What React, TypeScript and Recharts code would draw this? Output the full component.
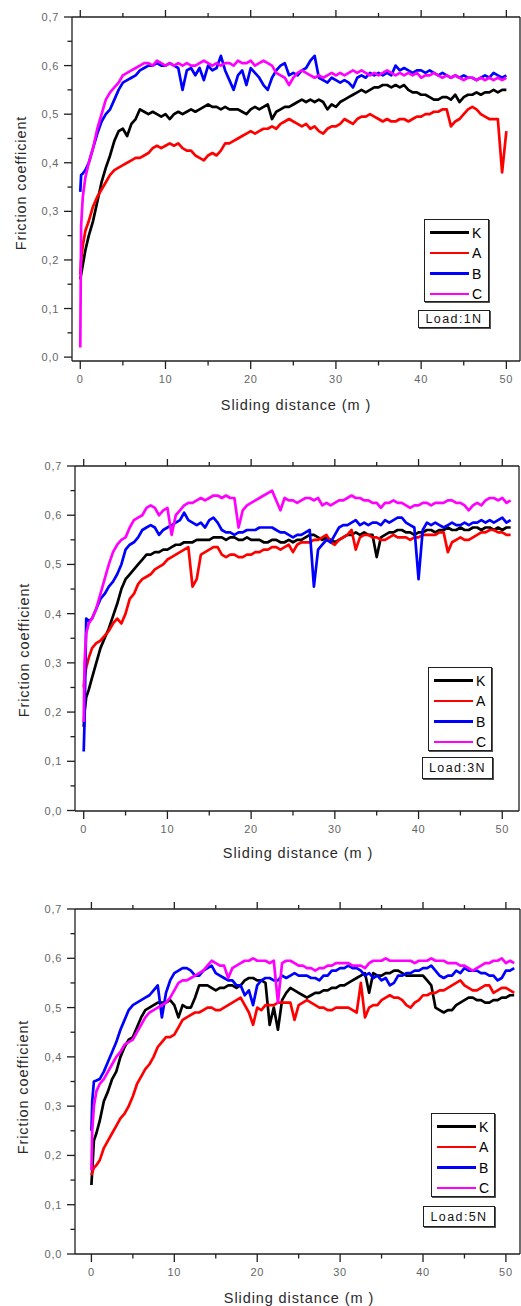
import React from 'react';
import { LineChart, Line, XAxis, YAxis, Legend } from 'recharts';

const FONT = '"Liberation Sans", Arial, sans-serif';
const AXIS = '#1f1f1f';

// sliding distance (m) sample positions
const DIST = [
  0, 0.1, 0.3, 0.6,
  1, 1.5, 2, 2.5, 3, 3.5, 4, 4.5, 5, 5.5,
  6, 6.5, 7, 7.5, 8, 8.5, 9, 9.5, 10, 10.5,
  11, 11.5, 12, 12.5, 13, 13.5, 14, 14.5, 15, 15.5,
  16, 16.5, 17, 17.5, 18, 18.5, 19, 19.5, 20, 20.5,
  21, 21.5, 22, 22.5, 23, 23.5, 24, 24.5, 25, 25.5,
  26, 26.5, 27, 27.5, 28, 28.5, 29, 29.5, 30, 30.5,
  31, 31.5, 32, 32.5, 33, 33.5, 34, 34.5, 35, 35.5,
  36, 36.5, 37, 37.5, 38, 38.5, 39, 39.5, 40, 40.5,
  41, 41.5, 42, 42.5, 43, 43.5, 44, 44.5, 45, 45.5,
  46, 46.5, 47, 47.5, 48, 48.5, 49, 49.5, 50, 50.5, 51,
];

const X_TICKS = [0, 5, 10, 15, 20, 25, 30, 35, 40, 45, 50];
const Y_TICKS = [0, 0.05, 0.1, 0.15, 0.2, 0.25, 0.3, 0.35, 0.4, 0.45, 0.5, 0.55, 0.6, 0.65, 0.7];

const NAMES = ['K', 'A', 'B', 'C'];
const COLORS = ['#000000', '#ff0000', '#0000ff', '#ff00ff'];

// ---- Load 1N ----
const K_1N = [
  0.16, 0.17, 0.19, 0.22,
  0.25, 0.28, 0.32, 0.36, 0.39, 0.415, 0.445, 0.465, 0.47, 0.455,
  0.48, 0.49, 0.51, 0.505, 0.50, 0.505, 0.50, 0.495, 0.50, 0.49,
  0.50, 0.505, 0.50, 0.505, 0.51, 0.505, 0.51, 0.515, 0.52, 0.515,
  0.515, 0.51, 0.515, 0.51, 0.51, 0.51, 0.505, 0.50, 0.51, 0.515,
  0.51, 0.515, 0.52, 0.49, 0.505, 0.51, 0.515, 0.515, 0.52, 0.525,
  0.53, 0.525, 0.53, 0.525, 0.53, 0.525, 0.51, 0.52, 0.515, 0.525,
  0.53, 0.535, 0.54, 0.545, 0.55, 0.545, 0.55, 0.555, 0.555, 0.56,
  0.56, 0.555, 0.56, 0.555, 0.56, 0.55, 0.545, 0.545, 0.54, 0.54,
  0.535, 0.53, 0.53, 0.535, 0.535, 0.53, 0.54, 0.525, 0.535, 0.54,
  0.54, 0.545, 0.54, 0.545, 0.545, 0.55, 0.545, 0.55, 0.55,
];
const A_1N = [
  0.17, 0.2, 0.23, 0.26,
  0.28, 0.31, 0.33, 0.345, 0.36, 0.375, 0.385, 0.39, 0.395, 0.40,
  0.405, 0.41, 0.41, 0.415, 0.42, 0.43, 0.435, 0.43, 0.435, 0.44,
  0.435, 0.44, 0.43, 0.425, 0.425, 0.415, 0.41, 0.405, 0.415, 0.42,
  0.415, 0.425, 0.44, 0.44, 0.445, 0.45, 0.455, 0.46, 0.465, 0.46,
  0.465, 0.47, 0.47, 0.475, 0.47, 0.48, 0.485, 0.49, 0.485, 0.48,
  0.475, 0.48, 0.47, 0.475, 0.465, 0.46, 0.47, 0.475, 0.475, 0.48,
  0.49, 0.485, 0.48, 0.49, 0.495, 0.495, 0.50, 0.495, 0.49, 0.485,
  0.49, 0.485, 0.485, 0.49, 0.49, 0.485, 0.49, 0.495, 0.495, 0.50,
  0.50, 0.505, 0.505, 0.51, 0.51, 0.475, 0.485, 0.49, 0.50, 0.51,
  0.515, 0.51, 0.50, 0.495, 0.49, 0.49, 0.49, 0.38, 0.465,
];
const B_1N = [
  0.34, 0.375, 0.378, 0.385,
  0.40, 0.43, 0.46, 0.485, 0.50, 0.51, 0.53, 0.55, 0.565, 0.57,
  0.575, 0.58, 0.59, 0.595, 0.60, 0.60, 0.605, 0.60, 0.60, 0.605,
  0.60, 0.595, 0.55, 0.59, 0.595, 0.58, 0.595, 0.57, 0.60, 0.59,
  0.595, 0.62, 0.59, 0.57, 0.55, 0.58, 0.59, 0.56, 0.595, 0.585,
  0.575, 0.56, 0.55, 0.575, 0.59, 0.60, 0.605, 0.58, 0.585, 0.58,
  0.59, 0.595, 0.61, 0.62, 0.575, 0.57, 0.565, 0.575, 0.57, 0.565,
  0.57, 0.565, 0.555, 0.575, 0.58, 0.575, 0.585, 0.58, 0.585, 0.58,
  0.585, 0.58, 0.60, 0.59, 0.595, 0.59, 0.585, 0.59, 0.59, 0.585,
  0.59, 0.585, 0.58, 0.585, 0.58, 0.575, 0.58, 0.575, 0.58, 0.575,
  0.575, 0.57, 0.575, 0.58, 0.575, 0.585, 0.58, 0.575, 0.58,
];
const C_1N = [
  0.02, 0.27, 0.33, 0.37,
  0.40, 0.43, 0.47, 0.50, 0.53, 0.545, 0.555, 0.565, 0.58, 0.585,
  0.59, 0.595, 0.60, 0.605, 0.605, 0.60, 0.61, 0.605, 0.60, 0.605,
  0.60, 0.605, 0.60, 0.605, 0.60, 0.60, 0.605, 0.61, 0.605, 0.60,
  0.605, 0.60, 0.605, 0.605, 0.60, 0.61, 0.605, 0.605, 0.61, 0.60,
  0.605, 0.61, 0.605, 0.60, 0.585, 0.58, 0.575, 0.56, 0.575, 0.585,
  0.59, 0.585, 0.58, 0.575, 0.58, 0.575, 0.58, 0.585, 0.58, 0.585,
  0.58, 0.585, 0.59, 0.585, 0.59, 0.585, 0.58, 0.585, 0.58, 0.585,
  0.59, 0.585, 0.58, 0.585, 0.58, 0.585, 0.58, 0.585, 0.575, 0.58,
  0.58, 0.585, 0.58, 0.575, 0.58, 0.575, 0.58, 0.575, 0.57, 0.575,
  0.575, 0.57, 0.575, 0.57, 0.575, 0.57, 0.575, 0.57, 0.575,
];

// ---- Load 3N ----
const K_3N = [
  0.17, 0.20, 0.23, 0.245,
  0.27, 0.30, 0.33, 0.35, 0.37, 0.395, 0.42, 0.45, 0.47, 0.48,
  0.49, 0.50, 0.51, 0.52, 0.52, 0.525, 0.525, 0.53, 0.53, 0.535,
  0.54, 0.54, 0.545, 0.545, 0.545, 0.55, 0.55, 0.55, 0.55, 0.555,
  0.555, 0.555, 0.55, 0.555, 0.555, 0.55, 0.55, 0.555, 0.55, 0.55,
  0.55, 0.545, 0.545, 0.55, 0.55, 0.545, 0.545, 0.55, 0.545, 0.55,
  0.55, 0.555, 0.56, 0.56, 0.555, 0.55, 0.555, 0.55, 0.545, 0.55,
  0.555, 0.56, 0.56, 0.565, 0.56, 0.565, 0.56, 0.56, 0.515, 0.555,
  0.56, 0.565, 0.565, 0.57, 0.57, 0.565, 0.565, 0.56, 0.565, 0.565,
  0.57, 0.57, 0.565, 0.57, 0.57, 0.575, 0.57, 0.57, 0.575, 0.57,
  0.57, 0.575, 0.575, 0.57, 0.575, 0.575, 0.57, 0.575, 0.57, 0.575, 0.575,
];
const A_3N = [
  0.25, 0.27, 0.29, 0.31,
  0.33, 0.34, 0.345, 0.355, 0.365, 0.38, 0.39, 0.38, 0.40, 0.43,
  0.44, 0.46, 0.47, 0.475, 0.48, 0.49, 0.495, 0.50, 0.51, 0.515,
  0.52, 0.525, 0.53, 0.535, 0.455, 0.47, 0.52, 0.525, 0.53, 0.535,
  0.535, 0.52, 0.515, 0.52, 0.52, 0.515, 0.515, 0.52, 0.52, 0.525,
  0.525, 0.53, 0.53, 0.535, 0.535, 0.53, 0.535, 0.54, 0.525, 0.54,
  0.545, 0.545, 0.545, 0.55, 0.55, 0.555, 0.56, 0.545, 0.54, 0.55,
  0.555, 0.56, 0.57, 0.53, 0.555, 0.56, 0.56, 0.555, 0.555, 0.55,
  0.55, 0.555, 0.56, 0.555, 0.555, 0.555, 0.55, 0.555, 0.555, 0.56,
  0.56, 0.56, 0.56, 0.565, 0.565, 0.525, 0.545, 0.55, 0.555, 0.55,
  0.55, 0.555, 0.56, 0.565, 0.565, 0.57, 0.57, 0.565, 0.565, 0.56, 0.56,
];
const B_3N = [
  0.12, 0.18, 0.39, 0.385,
  0.39, 0.41, 0.43, 0.44, 0.455, 0.465, 0.48, 0.50, 0.53, 0.54,
  0.545, 0.555, 0.57, 0.575, 0.58, 0.575, 0.56, 0.57, 0.575, 0.58,
  0.585, 0.59, 0.605, 0.59, 0.585, 0.58, 0.585, 0.575, 0.59, 0.595,
  0.585, 0.57, 0.565, 0.565, 0.56, 0.565, 0.565, 0.57, 0.57, 0.57,
  0.575, 0.575, 0.575, 0.575, 0.57, 0.565, 0.565, 0.56, 0.555, 0.56,
  0.56, 0.565, 0.57, 0.455, 0.53, 0.54, 0.55, 0.545, 0.56, 0.575,
  0.58, 0.58, 0.585, 0.59, 0.58, 0.585, 0.58, 0.585, 0.585, 0.58,
  0.59, 0.585, 0.59, 0.595, 0.595, 0.585, 0.58, 0.575, 0.47, 0.57,
  0.585, 0.58, 0.585, 0.58, 0.575, 0.58, 0.585, 0.58, 0.58, 0.585,
  0.58, 0.585, 0.585, 0.59, 0.585, 0.59, 0.585, 0.59, 0.595, 0.585, 0.59,
];
const C_3N = [
  0.18, 0.30, 0.36, 0.38,
  0.39, 0.41, 0.44, 0.47, 0.50, 0.525, 0.54, 0.55, 0.555, 0.575,
  0.59, 0.595, 0.60, 0.615, 0.62, 0.615, 0.60, 0.61, 0.615, 0.56,
  0.60, 0.61, 0.62, 0.625, 0.625, 0.63, 0.635, 0.63, 0.635, 0.64,
  0.64, 0.635, 0.64, 0.635, 0.635, 0.575, 0.61, 0.62, 0.625, 0.63,
  0.635, 0.64, 0.645, 0.65, 0.63, 0.61, 0.635, 0.63, 0.63, 0.625,
  0.63, 0.635, 0.635, 0.63, 0.635, 0.62, 0.625, 0.62, 0.625, 0.63,
  0.63, 0.635, 0.64, 0.635, 0.635, 0.63, 0.63, 0.625, 0.625, 0.615,
  0.625, 0.625, 0.63, 0.625, 0.625, 0.62, 0.615, 0.62, 0.62, 0.625,
  0.625, 0.62, 0.625, 0.625, 0.625, 0.63, 0.63, 0.625, 0.625, 0.62,
  0.61, 0.62, 0.625, 0.62, 0.63, 0.635, 0.635, 0.63, 0.635, 0.625, 0.63,
];

// ---- Load 5N ----
const K_5N = [
  0.14, 0.17, 0.23, 0.245,
  0.27, 0.31, 0.33, 0.355, 0.37, 0.40, 0.42, 0.435, 0.44, 0.46,
  0.48, 0.495, 0.50, 0.505, 0.51, 0.51, 0.51, 0.515, 0.505, 0.48,
  0.505, 0.50, 0.50, 0.52, 0.545, 0.545, 0.545, 0.54, 0.535, 0.54,
  0.54, 0.545, 0.545, 0.54, 0.545, 0.555, 0.56, 0.56, 0.555, 0.555,
  0.55, 0.465, 0.50, 0.455, 0.515, 0.53, 0.54, 0.535, 0.53, 0.525,
  0.52, 0.525, 0.53, 0.53, 0.535, 0.535, 0.54, 0.54, 0.545, 0.545,
  0.55, 0.555, 0.56, 0.565, 0.57, 0.53, 0.57, 0.565, 0.565, 0.57,
  0.57, 0.575, 0.575, 0.57, 0.565, 0.565, 0.565, 0.565, 0.565, 0.555,
  0.545, 0.50, 0.495, 0.49, 0.495, 0.495, 0.505, 0.51, 0.515, 0.52,
  0.52, 0.515, 0.515, 0.51, 0.51, 0.515, 0.515, 0.52, 0.52, 0.525, 0.525,
];
const A_5N = [
  0.16, 0.165, 0.175, 0.18,
  0.19, 0.215, 0.23, 0.245, 0.26, 0.275, 0.285, 0.30, 0.32, 0.345,
  0.36, 0.375, 0.385, 0.40, 0.42, 0.43, 0.44, 0.44, 0.445, 0.46,
  0.475, 0.48, 0.485, 0.49, 0.49, 0.495, 0.50, 0.50, 0.495, 0.495,
  0.50, 0.505, 0.51, 0.515, 0.52, 0.505, 0.49, 0.465, 0.50, 0.495,
  0.505, 0.505, 0.505, 0.51, 0.51, 0.51, 0.51, 0.475, 0.505, 0.51,
  0.515, 0.51, 0.505, 0.50, 0.50, 0.495, 0.495, 0.50, 0.50, 0.50,
  0.50, 0.495, 0.49, 0.55, 0.48, 0.50, 0.505, 0.505, 0.515, 0.52,
  0.525, 0.52, 0.52, 0.515, 0.505, 0.50, 0.51, 0.515, 0.525, 0.525,
  0.53, 0.53, 0.535, 0.535, 0.54, 0.545, 0.55, 0.555, 0.545, 0.54,
  0.535, 0.535, 0.54, 0.545, 0.545, 0.53, 0.535, 0.54, 0.54, 0.535, 0.53,
];
const B_5N = [
  0.25, 0.31, 0.35, 0.352,
  0.355, 0.37, 0.39, 0.41, 0.43, 0.455, 0.475, 0.495, 0.505, 0.51,
  0.515, 0.52, 0.525, 0.535, 0.545, 0.48, 0.53, 0.555, 0.57, 0.575,
  0.58, 0.58, 0.575, 0.565, 0.565, 0.575, 0.58, 0.585, 0.57, 0.565,
  0.56, 0.555, 0.555, 0.545, 0.545, 0.525, 0.535, 0.505, 0.545, 0.555,
  0.56, 0.56, 0.555, 0.555, 0.565, 0.56, 0.565, 0.57, 0.565, 0.565,
  0.565, 0.56, 0.56, 0.555, 0.565, 0.565, 0.575, 0.575, 0.58, 0.58,
  0.585, 0.58, 0.58, 0.575, 0.565, 0.57, 0.56, 0.565, 0.555, 0.56,
  0.545, 0.55, 0.565, 0.565, 0.57, 0.57, 0.575, 0.575, 0.58, 0.58,
  0.585, 0.575, 0.565, 0.56, 0.565, 0.565, 0.575, 0.57, 0.58, 0.575,
  0.575, 0.575, 0.57, 0.57, 0.565, 0.565, 0.555, 0.56, 0.575, 0.575, 0.58,
];
const C_5N = [
  0.17, 0.25, 0.30, 0.33,
  0.345, 0.355, 0.37, 0.385, 0.40, 0.41, 0.425, 0.43, 0.435, 0.45,
  0.465, 0.48, 0.49, 0.495, 0.50, 0.505, 0.51, 0.52, 0.535, 0.55,
  0.555, 0.555, 0.56, 0.565, 0.57, 0.575, 0.585, 0.595, 0.59, 0.585,
  0.585, 0.56, 0.58, 0.585, 0.59, 0.595, 0.595, 0.60, 0.595, 0.595,
  0.595, 0.59, 0.595, 0.51, 0.59, 0.595, 0.595, 0.59, 0.585, 0.585,
  0.58, 0.58, 0.575, 0.58, 0.58, 0.585, 0.585, 0.59, 0.59, 0.59,
  0.59, 0.585, 0.585, 0.585, 0.58, 0.59, 0.595, 0.595, 0.595, 0.60,
  0.595, 0.595, 0.595, 0.595, 0.595, 0.595, 0.59, 0.595, 0.595, 0.595,
  0.60, 0.595, 0.595, 0.595, 0.59, 0.59, 0.59, 0.585, 0.585, 0.58,
  0.575, 0.58, 0.585, 0.59, 0.59, 0.595, 0.595, 0.60, 0.59, 0.595, 0.59,
];

const toPoints = (vals: number[]) => vals.map((v, i) => ({ x: DIST[i], v }));

const fmt = (v: number) => v.toFixed(1).replace('.', ',');
const isMajorY = (v: number) => Math.round(v * 100) % 10 === 0;

function BottomTick({ x, y, payload }: any) {
  const major = payload.value % 10 === 0;
  return (
    <g>
      <line x1={x} x2={x} y1={y} y2={y + (major ? 8 : 4.5)} stroke={AXIS} strokeWidth={1.3} />
      {major && (
        <text x={x} y={y + 22} textAnchor="middle" fontSize={11} fill="#666" fontFamily={FONT} letterSpacing={0.7}>
          {payload.value}
        </text>
      )}
    </g>
  );
}

function TopTick({ x, y, payload }: any) {
  const major = payload.value % 10 === 0;
  return <line x1={x} x2={x} y1={y} y2={y - (major ? 7 : 4)} stroke={AXIS} strokeWidth={1.3} />;
}

function LeftTick({ x, y, payload }: any) {
  const major = isMajorY(payload.value);
  return (
    <g>
      <line x1={x} x2={x - (major ? 8 : 4.5)} y1={y} y2={y} stroke={AXIS} strokeWidth={1.3} />
      {major && (
        <text x={x - 13} y={y + 4} textAnchor="end" fontSize={11} fill="#666" fontFamily={FONT} letterSpacing={0.7}>
          {fmt(payload.value)}
        </text>
      )}
    </g>
  );
}

type PanelProps = {
  top: number;
  height: number;
  plot: { left: number; right: number; top: number; bottom: number };
  xDomain: [number, number];
  yDomain: [number, number];
  series: number[][];
  load: string;
  legend: { left: number; top: number; w: number; h: number; loadLeft: number; loadTop: number; loadW: number; loadH: number };
  yTitle: { x: number; y: number };
  xTitle: { x: number; y: number };
};

function LegendBox({ legend, load }: { legend: PanelProps['legend']; load: string }) {
  const ox = Math.min(legend.left, legend.loadLeft);
  const rows = [12.5, 33, 53.5, 74];
  return (
    <div style={{ position: 'relative', fontFamily: FONT, width: 80, height: 110 }}>
      <div
        style={{
          position: 'absolute',
          left: legend.left - ox,
          top: 0,
          width: legend.w,
          height: legend.h,
          boxSizing: 'border-box',
          border: `1.5px solid ${AXIS}`,
          boxShadow: '1px 1px 0 #555',
          background: '#fff',
        }}
      >
        {NAMES.map((n, i) => (
          <div key={n} style={{ position: 'absolute', left: 0, top: rows[i] - 8, height: 16, width: '100%' }}>
            <div style={{ position: 'absolute', left: 5, top: 6.8, width: 39, height: 2.6, background: COLORS[i] }} />
            <span style={{ position: 'absolute', left: 47, top: 0, fontSize: 14, lineHeight: '16px', color: '#000' }}>{n}</span>
          </div>
        ))}
      </div>
      <div
        style={{
          position: 'absolute',
          left: legend.loadLeft - ox,
          top: legend.loadTop - legend.top,
          width: legend.loadW,
          height: legend.loadH,
          boxSizing: 'border-box',
          border: `1.5px solid ${AXIS}`,
          boxShadow: '1px 1px 0 #555',
          background: '#fff',
          fontSize: 12.5,
          letterSpacing: 1.4,
          color: '#111',
          display: 'flex',
          alignItems: 'center',
          justifyContent: 'center',
        }}
      >
        {load}
      </div>
    </div>
  );
}

function Panel(p: PanelProps) {
  const width = 521;
  const topSpace = p.plot.top - p.top;
  const bottomSpace = p.top + p.height - p.plot.bottom;
  const rightSpace = width - p.plot.right;
  const ox = Math.min(p.legend.left, p.legend.loadLeft);
  return (
    <div style={{ position: 'absolute', left: 0, top: p.top, width, height: p.height }}>
      <LineChart width={width} height={p.height} margin={{ top: 0, left: 0, right: 0, bottom: 0 }}>
        <XAxis
          dataKey="x"
          type="number"
          domain={p.xDomain}
          allowDataOverflow
          ticks={X_TICKS}
          interval={0}
          height={bottomSpace}
          tickSize={0}
          tickMargin={0}
          tickLine={false}
          tick={BottomTick}
          axisLine={{ stroke: AXIS, strokeWidth: 1.3 }}
        />
        <XAxis
          xAxisId="top"
          orientation="top"
          dataKey="x"
          type="number"
          domain={p.xDomain}
          allowDataOverflow
          ticks={X_TICKS}
          interval={0}
          height={topSpace}
          tickSize={0}
          tickMargin={0}
          tickLine={false}
          tick={TopTick}
          axisLine={{ stroke: AXIS, strokeWidth: 1.3 }}
        />
        <YAxis
          type="number"
          domain={p.yDomain}
          allowDataOverflow
          ticks={Y_TICKS}
          interval={0}
          width={p.plot.left}
          tickSize={0}
          tickMargin={0}
          tickLine={false}
          tick={LeftTick}
          axisLine={{ stroke: AXIS, strokeWidth: 1.3 }}
        />
        <YAxis
          yAxisId="right"
          orientation="right"
          type="number"
          domain={p.yDomain}
          allowDataOverflow
          width={Math.max(rightSpace, 1)}
          tick={false}
          tickLine={false}
          axisLine={{ stroke: AXIS, strokeWidth: 1.3 }}
        />
        <Legend
          layout="vertical"
          align="center"
          verticalAlign="middle"
          wrapperStyle={{ left: ox, top: p.legend.top - p.top, width: 'auto', height: 'auto' }}
          content={() => <LegendBox legend={p.legend} load={p.load} />}
        />
        {p.series.map((s, i) => (
          <Line
            key={NAMES[i]}
            data={toPoints(s)}
            dataKey="v"
            name={NAMES[i]}
            type="linear"
            stroke={COLORS[i]}
            strokeWidth={2.7}
            strokeLinejoin="round"
            dot={false}
            activeDot={false}
            isAnimationActive={false}
          />
        ))}
      </LineChart>
      <div
        style={{
          position: 'absolute',
          left: p.xTitle.x,
          top: p.xTitle.y - p.top,
          transform: 'translate(-50%, -50%)',
          whiteSpace: 'nowrap',
          fontFamily: FONT,
          fontSize: 14.5,
          letterSpacing: 0.9,
          color: '#2a2a2a',
        }}
      >
        Sliding distance (m )
      </div>
      <div
        style={{
          position: 'absolute',
          left: p.yTitle.x,
          top: p.yTitle.y - p.top,
          transform: 'translate(-50%, -50%) rotate(-90deg)',
          whiteSpace: 'nowrap',
          fontFamily: FONT,
          fontSize: 14.5,
          letterSpacing: 0.9,
          color: '#2a2a2a',
        }}
      >
        Friction coefficient
      </div>
    </div>
  );
}

export default function App() {
  return (
    <div style={{ position: 'absolute', left: 0, top: 0, width: 521, height: 1306, background: '#fff', overflow: 'hidden' }}>
      <Panel
        top={0}
        height={430}
        plot={{ left: 72, right: 520, top: 17, bottom: 361 }}
        xDomain={[-0.97, 51.6]}
        yDomain={[-0.008, 0.7]}
        series={[K_1N, A_1N, B_1N, C_1N]}
        load="Load:1N"
        legend={{ left: 424, top: 219, w: 65, h: 83, loadLeft: 418, loadTop: 310, loadW: 72, loadH: 18 }}
        xTitle={{ x: 296, y: 405 }}
        yTitle={{ x: 21, y: 183 }}
      />
      <Panel
        top={440}
        height={430}
        plot={{ left: 75, right: 519, top: 466, bottom: 811 }}
        xDomain={[-1.04, 52.0]}
        yDomain={[-0.001, 0.7]}
        series={[K_3N, A_3N, B_3N, C_3N]}
        load="Load:3N"
        legend={{ left: 428, top: 667, w: 64, h: 84, loadLeft: 422, loadTop: 757, loadW: 71, loadH: 22 }}
        xTitle={{ x: 298, y: 853 }}
        yTitle={{ x: 24, y: 650 }}
      />
      <Panel
        top={880}
        height={426}
        plot={{ left: 75, right: 520, top: 909, bottom: 1254 }}
        xDomain={[-1.98, 51.7]}
        yDomain={[0, 0.7]}
        series={[K_5N, A_5N, B_5N, C_5N]}
        load="Load:5N"
        legend={{ left: 431, top: 1113, w: 64, h: 84, loadLeft: 423, loadTop: 1206, loadW: 72, loadH: 21 }}
        xTitle={{ x: 299, y: 1298 }}
        yTitle={{ x: 23, y: 1087 }}
      />
    </div>
  );
}
